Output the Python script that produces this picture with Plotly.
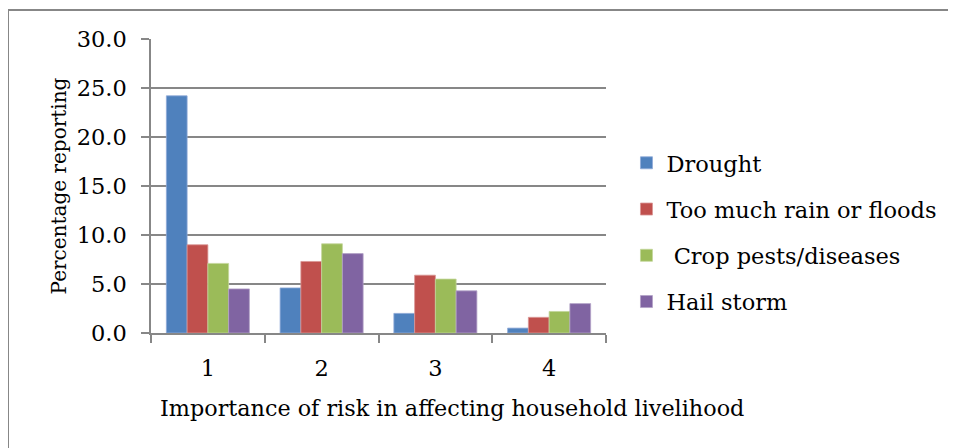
import plotly.graph_objects as go

categories = ["1", "2", "3", "4"]
series_names = ["Drought", "Too much rain or floods", " Crop pests/diseases", "Hail storm"]
drought = [24.2, 4.6, 2.0, 0.5]
floods = [9.0, 7.3, 5.9, 1.6]
pests = [7.1, 9.1, 5.5, 2.2]
hail = [4.5, 8.1, 4.3, 3.0]
y_ticks = [0, 5, 10, 15, 20, 25, 30]
y_ticklabels = ["0.0", "5.0", "10.0", "15.0", "20.0", "25.0", "30.0"]
x_title = "Importance of risk in affecting household livelihood"
y_title = "Percentage reporting"

colors = ["#4F81BD", "#C0504D", "#9BBB59", "#8064A2"]
edge = ["#8FAAD8", "#D99694", "#C3D69B", "#B2A1C7"]
font_family = "DejaVu Serif"

fig = go.Figure()
for i, (name, vals) in enumerate(zip(series_names, [drought, floods, pests, hail])):
    fig.add_trace(go.Bar(
        x=categories, y=vals, name=name, legendgroup=str(i),
        marker=dict(color=colors[i], line=dict(color=edge[i], width=0.8)),
    ))

grid_col = "#878787"
L, T = 143, 31
fig.update_layout(
    width=956, height=448,
    margin=dict(l=L, r=956 - L - 455, t=T, b=448 - T - 294),
    paper_bgcolor="white", plot_bgcolor="white",
    barmode="group", bargap=0.27, bargroupgap=0,
    font=dict(family=font_family, color="black", size=22),
    showlegend=True,
    legend=dict(x=1.045, y=0.343, xanchor="left", yanchor="middle",
                font=dict(family=font_family, size=22.5, color="black"),
                tracegroupgap=14, itemwidth=30, bgcolor="rgba(0,0,0,0)"),
    xaxis=dict(
        type="category", tickson="boundaries", ticks="outside", ticklen=8,
        tickcolor=grid_col, tickwidth=1.5, showline=True, linecolor=grid_col, linewidth=1.5,
        showgrid=False, tickfont=dict(size=22.5, family=font_family), ticklabelstandoff=14,
    ),
    yaxis=dict(
        range=[0, 30], tickvals=y_ticks, ticktext=y_ticklabels, ticks="outside", ticklen=8,
        tickcolor=grid_col, tickwidth=1.5, showline=True, linecolor=grid_col, linewidth=1.5,
        showgrid=True, gridcolor=grid_col, gridwidth=1.5, zeroline=False,
        tickfont=dict(size=22.5, family=font_family), ticklabelstandoff=10,
        title=dict(text=y_title, font=dict(size=20, family=font_family), standoff=5),
    ),
    annotations=[dict(text=x_title, xref="paper", yref="paper",
                      x=(452 - 151) / 455, y=(333 - 408) / 294,
                      xanchor="center", yanchor="middle", showarrow=False,
                      font=dict(size=22.3, family=font_family, color="black"))],
    shapes=[dict(type="rect", xref="paper", yref="paper",
                 x0=(8 - 151) / 455, x1=(965 - 151) / 455,
                 y0=(333 - 460) / 294, y1=(333 - 10) / 294,
                 line=dict(color=grid_col, width=2), fillcolor="rgba(0,0,0,0)", layer="below")],
)

fig.write_html("out.html")
